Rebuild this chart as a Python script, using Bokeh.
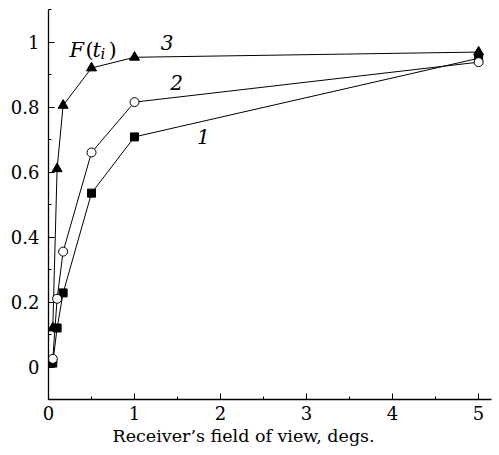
from bokeh.plotting import figure
from bokeh.models import FixedTicker, Range1d, Title
from bokeh.embed import file_html
from bokeh.resources import INLINE
from bokeh.core.properties import value

# data
x_vals = [0.05, 0.1, 0.17, 0.5, 1.0, 5.0]
curve1 = [0.012, 0.12, 0.228, 0.535, 0.708, 0.950]
curve2 = [0.025, 0.21, 0.355, 0.66, 0.815, 0.938]
curve3 = [0.12, 0.61, 0.805, 0.92, 0.953, 0.969]
x_ticks = [0, 1, 2, 3, 4, 5]
y_ticks = [0, 0.2, 0.4, 0.6, 0.8, 1.0]
y_tick_labels = ["0", "0.2", "0.4", "0.6", "0.8", "1"]
x_label = "Receiver\u2019s field of view, degs."
curve_names = ["1", "2", "3"]
curve_label_x = [1.80, 1.49, 1.38]
curve_label_y = [0.708, 0.874, 0.997]

FONT = "DejaVu Serif"

p = figure(width=499, height=455, output_backend="svg", toolbar_location=None,
           x_range=Range1d(0, 5.15), y_range=Range1d(-0.1, 1.1),
           min_border_left=48, min_border_right=8, min_border_top=9, min_border_bottom=56)
p.outline_line_color = None
p.grid.grid_line_color = None
p.background_fill_color = "white"

for ax in (p.xaxis[0], p.yaxis[0]):
    ax.axis_line_color = "black"
    ax.axis_line_width = 1.3
    ax.major_tick_in = 6
    ax.major_tick_out = 0
    ax.minor_tick_in = 3
    ax.minor_tick_out = 0
    ax.major_tick_line_color = "black"
    ax.minor_tick_line_color = "black"
    ax.major_label_text_font = FONT
    ax.major_label_text_font_size = "18px"
    ax.major_label_text_color = "black"

p.xaxis.ticker = FixedTicker(ticks=x_ticks, minor_ticks=[i * 0.5 for i in range(11)])
p.yaxis.ticker = FixedTicker(ticks=y_ticks, minor_ticks=[i * 0.1 for i in range(-1, 12)])
p.yaxis.major_label_overrides = {t: l for t, l in zip(y_ticks, y_tick_labels)}
p.yaxis.major_label_standoff = 9
p.xaxis.major_label_standoff = 6

xlab = Title(text=x_label, align="left", offset=64, standoff=2,
             text_font=FONT, text_font_style="normal", text_font_size="17.5px",
             text_color="black")
p.add_layout(xlab, "below")

for ys in (curve1, curve2, curve3):
    p.line(x_vals, ys, line_color="black", line_width=1)

p.scatter(x_vals, curve1, marker="square", size=8, fill_color="black", line_color="black")
p.scatter(x_vals, curve2, marker="circle", size=9, fill_color="white", line_color="black", line_width=1)
p.scatter(x_vals, curve3, marker="triangle", size=10, fill_color="black", line_color="black")

p.text(curve_label_x, curve_label_y, text=curve_names, text_font=value(FONT),
       text_font_style="italic", text_font_size="20px", text_align="center",
       text_baseline="middle", text_color="black")

# F(t_i) label
p.text([0.244], [0.975], text=["F"], text_font=value(FONT), text_font_style="italic",
       text_font_size="21px", text_baseline="alphabetic", text_color="black")
p.text([0.244], [0.975], text=["("], text_font=value(FONT), x_offset=16,
       text_font_size="21px", text_baseline="alphabetic", text_color="black")
p.text([0.244], [0.975], text=["t"], text_font=value(FONT), text_font_style="italic", x_offset=23,
       text_font_size="21px", text_baseline="alphabetic", text_color="black")
p.text([0.244], [0.962], text=["i"], text_font=value(FONT), text_font_style="italic", x_offset=31,
       text_font_size="15px", text_baseline="alphabetic", text_color="black")
p.text([0.244], [0.975], text=[")"], text_font=value(FONT), x_offset=39,
       text_font_size="21px", text_baseline="alphabetic", text_color="black")

open("out.html", "w").write(file_html(p, INLINE))
